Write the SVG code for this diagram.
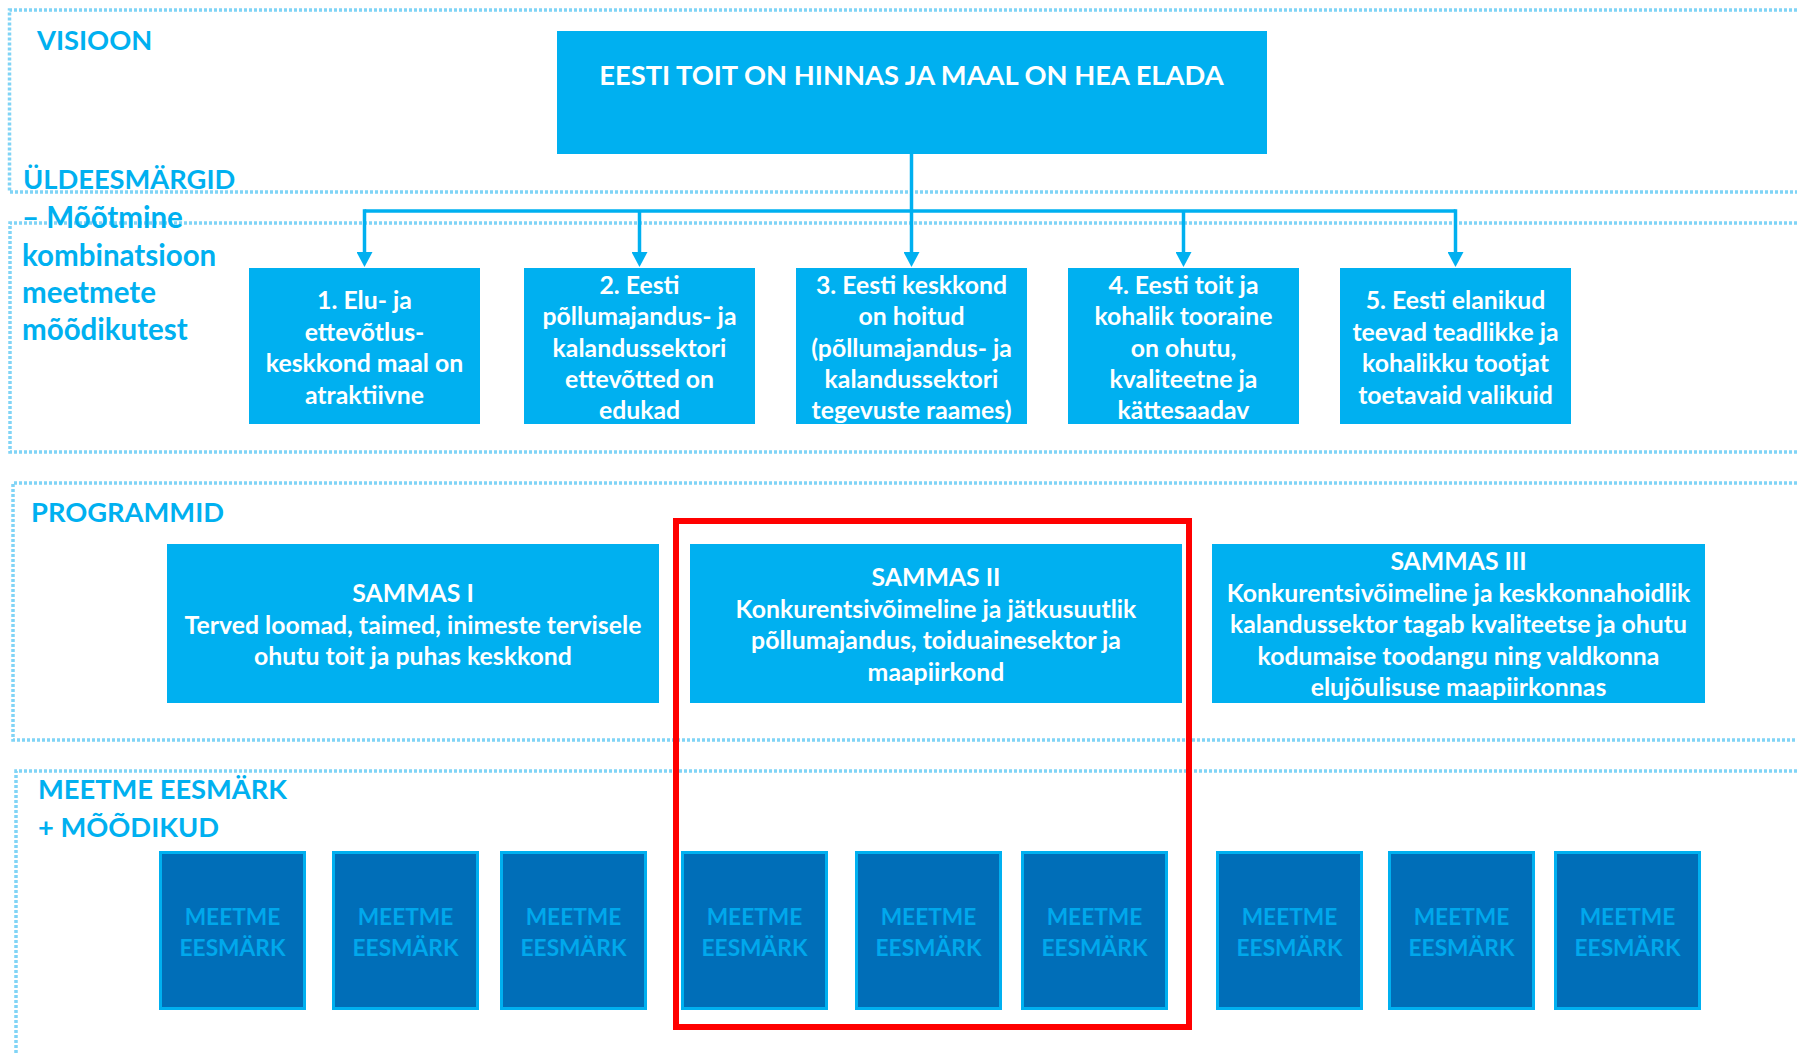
<svg xmlns="http://www.w3.org/2000/svg" width="1797" height="1055" viewBox="0 0 1797 1055">
<defs>
<style>
.sec{fill:none;stroke:#80D4F6;stroke-width:3.5;stroke-dasharray:3 2}
.hd{font-family:Lato,"Liberation Sans",sans-serif;font-weight:bold;font-size:27.3px;fill:#00B0F0}
.hl{font-family:Lato,"Liberation Sans",sans-serif;font-weight:bold;font-size:29.5px;fill:#00B0F0}
.bx{fill:#00B0F0}
.wt{font-family:Lato,"Liberation Sans",sans-serif;font-weight:bold;font-size:24.8px;fill:#FFFFFF;text-anchor:middle}
.tt{font-family:Lato,"Liberation Sans",sans-serif;font-weight:bold;font-size:27.3px;fill:#FFFFFF;text-anchor:middle}
.mb{fill:#006EB8;stroke:#00B0F0;stroke-width:3}
.mt{font-family:Lato,"Liberation Sans",sans-serif;font-weight:bold;font-size:22.7px;fill:#00A8EC;text-anchor:middle}
.cn{fill:none;stroke:#00B0F0;stroke-width:3.5}
</style>
<marker id="ah" viewBox="0 0 15 16" refX="3" refY="8" markerWidth="15" markerHeight="16" markerUnits="userSpaceOnUse" orient="auto">
<path d="M0,0 L15,8 L0,16 Z" fill="#00B0F0"/>
</marker>
</defs>
<rect width="1797" height="1055" fill="#FFFFFF"/>
<g id="sections">
<path class="sec" d="M1797,10 H9.5 V192 H1797"/>
<path class="sec" d="M1797,223 H10 V452 H1797"/>
<path class="sec" d="M1797,483 H13 V740 H1797"/>
<path class="sec" d="M1797,771 H16 V1055"/>
</g>
<g id="labels">
<text class="hd" x="37" y="50">VISIOON</text>
<text class="hd" x="23" y="189">ÜLDEESMÄRGID</text>
<text class="hl" x="22" y="228">– Mõõtmine</text>
<text class="hl" x="22" y="266">kombinatsioon</text>
<text class="hl" x="22" y="303">meetmete</text>
<text class="hl" x="22" y="340">mõõdikutest</text>
<text class="hd" x="31" y="522">PROGRAMMID</text>
<text class="hd" x="38" y="799">MEETME EESMÄRK</text>
<text class="hd" x="38" y="837">+ MÕÕDIKUD</text>
</g>
<g id="connectors">
<path class="cn" d="M911.5,154 V211"/>
<path class="cn" d="M364.5,211 H1455.5"/>
<path class="cn" d="M364.5,209.25 V255" marker-end="url(#ah)"/>
<path class="cn" d="M639.5,211 V255" marker-end="url(#ah)"/>
<path class="cn" d="M911.5,211 V255" marker-end="url(#ah)"/>
<path class="cn" d="M1183.5,211 V255" marker-end="url(#ah)"/>
<path class="cn" d="M1455.5,209.25 V255" marker-end="url(#ah)"/>
</g>
<g id="vision">
<rect class="bx" x="557" y="31" width="710" height="123"/>
<text class="tt" x="911.5" y="85">EESTI TOIT ON HINNAS JA MAAL ON HEA ELADA</text>
</g>
<g id="goal1">
<rect class="bx" x="249" y="268" width="231" height="156"/>
<text class="wt" x="364.5" y="309">1. Elu- ja</text>
<text class="wt" x="364.5" y="340.5">ettevõtlus-</text>
<text class="wt" x="364.5" y="372">keskkond maal on</text>
<text class="wt" x="364.5" y="403.5">atraktiivne</text>
</g>
<g id="goal2">
<rect class="bx" x="524" y="268" width="231" height="156"/>
<text class="wt" x="639.5" y="293.5">2. Eesti</text>
<text class="wt" x="639.5" y="325">põllumajandus- ja</text>
<text class="wt" x="639.5" y="356.5">kalandussektori</text>
<text class="wt" x="639.5" y="388">ettevõtted on</text>
<text class="wt" x="639.5" y="419">edukad</text>
</g>
<g id="goal3">
<rect class="bx" x="796" y="268" width="231" height="156"/>
<text class="wt" x="911.5" y="293.5">3. Eesti keskkond</text>
<text class="wt" x="911.5" y="325">on hoitud</text>
<text class="wt" x="911.5" y="356.5">(põllumajandus- ja</text>
<text class="wt" x="911.5" y="388">kalandussektori</text>
<text class="wt" x="911.5" y="419">tegevuste raames)</text>
</g>
<g id="goal4">
<rect class="bx" x="1068" y="268" width="231" height="156"/>
<text class="wt" x="1183.5" y="293.5">4. Eesti toit ja</text>
<text class="wt" x="1183.5" y="325">kohalik tooraine</text>
<text class="wt" x="1183.5" y="356.5">on ohutu,</text>
<text class="wt" x="1183.5" y="388">kvaliteetne ja</text>
<text class="wt" x="1183.5" y="419">kättesaadav</text>
</g>
<g id="goal5">
<rect class="bx" x="1340" y="268" width="231" height="156"/>
<text class="wt" x="1455.5" y="309">5. Eesti elanikud</text>
<text class="wt" x="1455.5" y="340.5">teevad teadlikke ja</text>
<text class="wt" x="1455.5" y="372">kohalikku tootjat</text>
<text class="wt" x="1455.5" y="403.5">toetavaid valikuid</text>
</g>
<g id="pillar1">
<rect class="bx" x="167" y="544" width="492" height="159"/>
<text class="wt" x="413" y="602">SAMMAS I</text>
<text class="wt" x="413" y="633.5">Terved loomad, taimed, inimeste tervisele</text>
<text class="wt" x="413" y="665">ohutu toit ja puhas keskkond</text>
</g>
<g id="pillar2">
<rect class="bx" x="690" y="544" width="492" height="159"/>
<text class="wt" x="936" y="586">SAMMAS II</text>
<text class="wt" x="936" y="617.5">Konkurentsivõimeline ja jätkusuutlik</text>
<text class="wt" x="936" y="649">põllumajandus, toiduainesektor ja</text>
<text class="wt" x="936" y="680.5">maapiirkond</text>
</g>
<g id="pillar3">
<rect class="bx" x="1212" y="544" width="493" height="159"/>
<text class="wt" x="1458.5" y="570">SAMMAS III</text>
<text class="wt" x="1458.5" y="601.5">Konkurentsivõimeline ja keskkonnahoidlik</text>
<text class="wt" x="1458.5" y="633">kalandussektor tagab kvaliteetse ja ohutu</text>
<text class="wt" x="1458.5" y="664.5">kodumaise toodangu ning valdkonna</text>
<text class="wt" x="1458.5" y="696">elujõulisuse maapiirkonnas</text>
</g>
<g id="measure1"><rect class="mb" x="160.5" y="852.5" width="144" height="156"/><text class="mt" x="232.5" y="925">MEETME</text><text class="mt" x="232.5" y="956">EESMÄRK</text></g>
<g id="measure2"><rect class="mb" x="333.5" y="852.5" width="144" height="156"/><text class="mt" x="405.5" y="925">MEETME</text><text class="mt" x="405.5" y="956">EESMÄRK</text></g>
<g id="measure3"><rect class="mb" x="501.5" y="852.5" width="144" height="156"/><text class="mt" x="573.5" y="925">MEETME</text><text class="mt" x="573.5" y="956">EESMÄRK</text></g>
<g id="measure4"><rect class="mb" x="682.5" y="852.5" width="144" height="156"/><text class="mt" x="754.5" y="925">MEETME</text><text class="mt" x="754.5" y="956">EESMÄRK</text></g>
<g id="measure5"><rect class="mb" x="856.5" y="852.5" width="144" height="156"/><text class="mt" x="928.5" y="925">MEETME</text><text class="mt" x="928.5" y="956">EESMÄRK</text></g>
<g id="measure6"><rect class="mb" x="1022.5" y="852.5" width="144" height="156"/><text class="mt" x="1094.5" y="925">MEETME</text><text class="mt" x="1094.5" y="956">EESMÄRK</text></g>
<g id="measure7"><rect class="mb" x="1217.5" y="852.5" width="144" height="156"/><text class="mt" x="1289.5" y="925">MEETME</text><text class="mt" x="1289.5" y="956">EESMÄRK</text></g>
<g id="measure8"><rect class="mb" x="1389.5" y="852.5" width="144" height="156"/><text class="mt" x="1461.5" y="925">MEETME</text><text class="mt" x="1461.5" y="956">EESMÄRK</text></g>
<g id="measure9"><rect class="mb" x="1555.5" y="852.5" width="144" height="156"/><text class="mt" x="1627.5" y="925">MEETME</text><text class="mt" x="1627.5" y="956">EESMÄRK</text></g>
<g id="highlight">
<rect x="676" y="521" width="513" height="506" fill="none" stroke="#FF0000" stroke-width="6"/>
</g>
</svg>
